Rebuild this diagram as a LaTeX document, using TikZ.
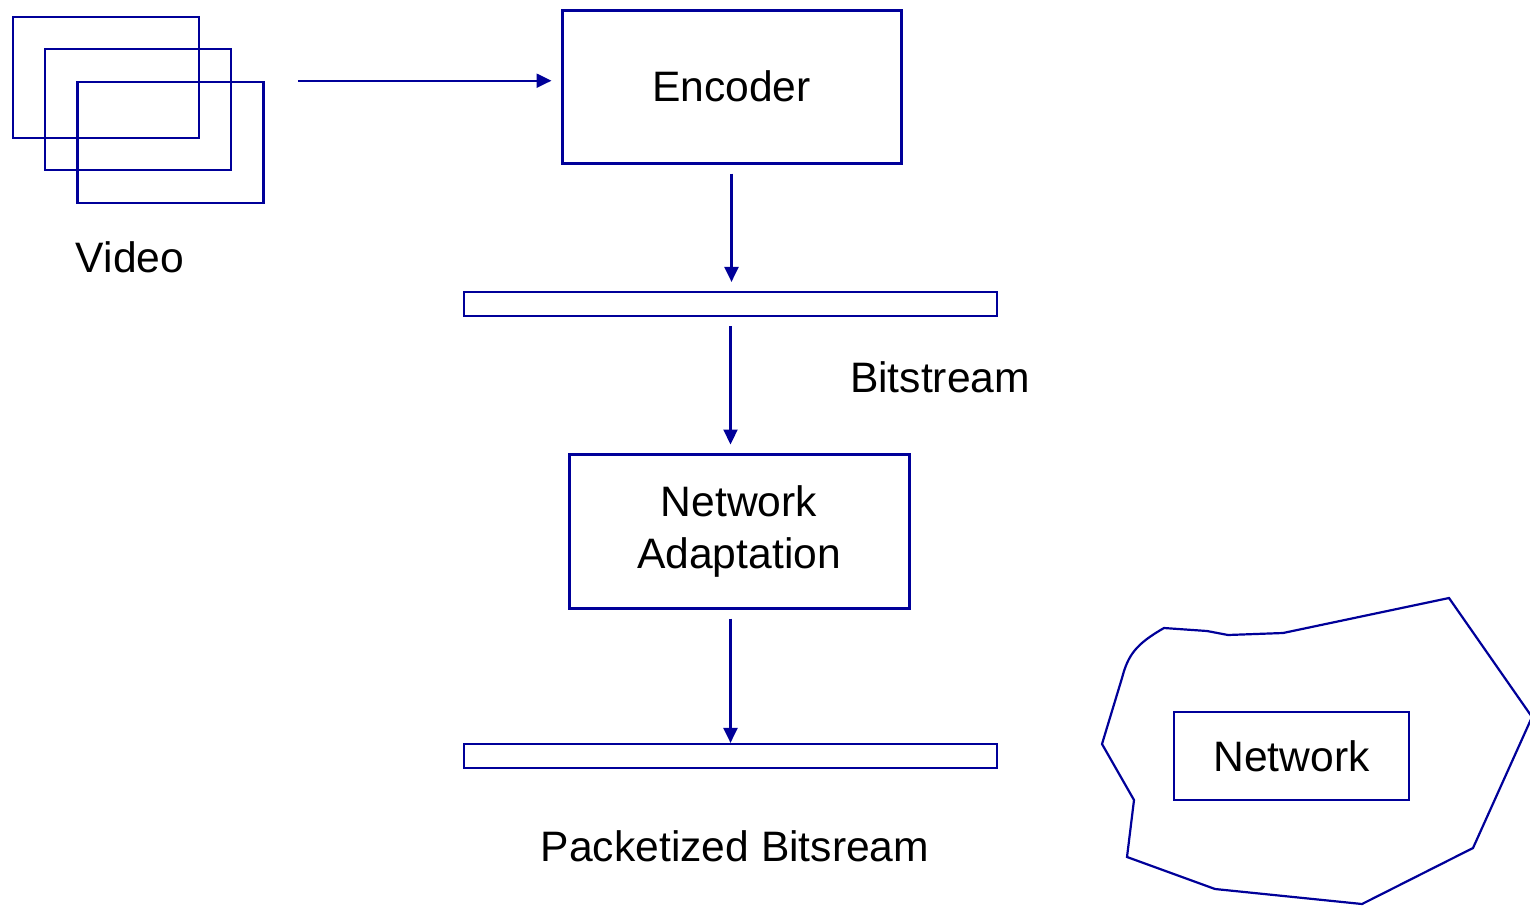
\documentclass[tikz,border=0pt]{standalone}
\usepackage{fontspec}
\setmainfont{Liberation Sans}
\usepackage{tikz}
\usetikzlibrary{arrows.meta,calc}

\definecolor{lineblue}{RGB}{0,0,153}

\tikzset{
    block/.style={draw=lineblue, line width=1.5pt, rectangle, inner sep=0pt,
        font=\fontsize{21.3}{26}\selectfont, align=center},
    frame/.style={draw=lineblue, line width=1.3pt, rectangle, inner sep=0pt,
        minimum width=93pt, minimum height=60.5pt},
    bar/.style={draw=lineblue, line width=1.1pt, rectangle, inner sep=0pt,
        minimum width=266.5pt, minimum height=12pt},
    label/.style={font=\fontsize{21.3}{26}\selectfont, inner sep=0pt},
    flow/.style={draw=lineblue, line width=1.1pt,
        -{Triangle[length=7.5pt,width=7pt]}}
}

\begin{document}
\begin{tikzpicture}[x=0.5pt, y=-0.5pt]
    \useasboundingbox (0,0) rectangle (1530,905);

    \node[frame] (f1) at (106,77.5) {};
    \node[frame] (f2) at (138,109.5) {};
    \node[frame] (f3) at (170.5,142.5) {};
    \node[label] (vid) at (130,257) {Video};

    \node[block, minimum width=169.5pt, minimum height=76.5pt] (enc) at (731.5,86.5) {Encoder};
    \node[bar] (bit) at (730.5,304) {};
    \node[label] (bitl) at (940,377) {Bitstream};
    \node[block, minimum width=170pt, minimum height=77pt] (na) at (739,531) {Network\\Adaptation};
    \node[bar] (pkt) at (730.5,756) {};
    \node[label] (pktl) at (735,846) {Packetized Bitsream};

    \draw[draw=lineblue, line width=1.1pt]
        (1449,598) -- (1532,717) -- (1473,848) -- (1362,904) -- (1215,889)
        -- (1127,857) -- (1134,800) -- (1102,744) -- (1122,678)
        .. controls (1128,655) and (1136,644) .. (1164,628)
        -- (1207,631) -- (1228,635) -- (1283,633) -- cycle;
    \node[block, line width=1.1pt, minimum width=117.5pt, minimum height=44pt] (net) at (1291.5,756) {Network};

    \draw[flow, shorten <=16.5pt, shorten >=4.5pt] (f3.north east) -- (f3.north east -| enc.west);
    \draw[flow, shorten <=4.5pt, shorten >=4.5pt] (enc.south) -- (enc.south |- bit.north);
    \draw[flow, shorten <=4.5pt, shorten >=4pt] (bit.south) -- (bit.south |- na.north);
    \draw[flow, shorten <=4.5pt] (bit.south |- na.south) -- (bit.south |- pkt.north);
\end{tikzpicture}
\end{document}
